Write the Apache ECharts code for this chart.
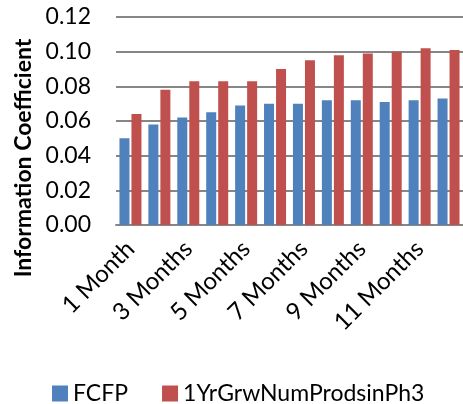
<!DOCTYPE html>
<html>
<head>
<meta charset="utf-8">
<script src="https://cdn.jsdelivr.net/npm/echarts@6/dist/echarts.min.js"></script>
<style>
    html, body { margin: 0; padding: 0; background: #fff; }
    #chart { width: 463px; height: 404px; }
</style>
</head>
<body>
<div id="chart"></div>
<script>
const categories = ['1 Month', '2 Months', '3 Months', '4 Months', '5 Months', '6 Months',
    '7 Months', '8 Months', '9 Months', '10 Months', '11 Months', '12 Months'];
const fcfp = [0.050, 0.058, 0.062, 0.065, 0.069, 0.070, 0.070, 0.072, 0.072, 0.071, 0.072, 0.073];
const grw = [0.064, 0.078, 0.083, 0.083, 0.083, 0.090, 0.095, 0.098, 0.099, 0.100, 0.102, 0.101];
const series_names = ['FCFP', '1YrGrwNumProdsinPh3'];
const y_title = 'Information Coefficient';

const font = 'Lato, "Open Sans", sans-serif';
const grey = '#868686';

let chart = echarts.init(document.getElementById('chart'));
let option = {
    animation: false,
    textStyle: { fontFamily: font, color: '#000' },
    grid: { left: 116, right: -5, top: 17, bottom: 179, containLabel: false },
    legend: {
        top: 377,
        left: 47,
        itemWidth: 16,
        itemHeight: 16,
        itemGap: 34,
        icon: 'rect',
        textStyle: { fontFamily: font, fontSize: 23, color: '#000' },
        data: series_names,
    },
    graphic: [
        {
            type: 'text',
            x: 24,
            y: 158,
            rotation: Math.PI / 2,
            style: {
                text: y_title,
                fontFamily: font,
                fontWeight: 'bold',
                fontSize: 23,
                fill: '#000',
                align: 'center',
                verticalAlign: 'middle',
            },
        },
    ],
    xAxis: {
        type: 'category',
        data: categories,
        axisLine: { lineStyle: { color: grey, width: 2 } },
        axisTick: { show: false },
        axisLabel: {
            interval: 1,
            rotate: 45,
            fontSize: 24,
            color: '#000',
            fontFamily: font,
            margin: 20,
        },
    },
    yAxis: {
        type: 'value',
        min: 0,
        max: 0.12,
        interval: 0.02,
        axisLine: { show: false },
        axisTick: { show: false },
        splitLine: { lineStyle: { color: grey, width: 2 } },
        axisLabel: {
            formatter: (v) => v.toFixed(2),
            fontSize: 23,
            color: '#000',
            fontFamily: font,
            margin: 25,
        },
    },
    series: [
        {
            name: series_names[0],
            type: 'bar',
            data: fcfp,
            barWidth: 10,
            barGap: '20%',
            itemStyle: { color: '#4F81BD' },
        },
        {
            name: series_names[1],
            type: 'bar',
            data: grw,
            barWidth: 10,
            barGap: '20%',
            itemStyle: { color: '#C0504D' },
        },
    ],
};
chart.setOption(option);
</script>
</body>
</html>
